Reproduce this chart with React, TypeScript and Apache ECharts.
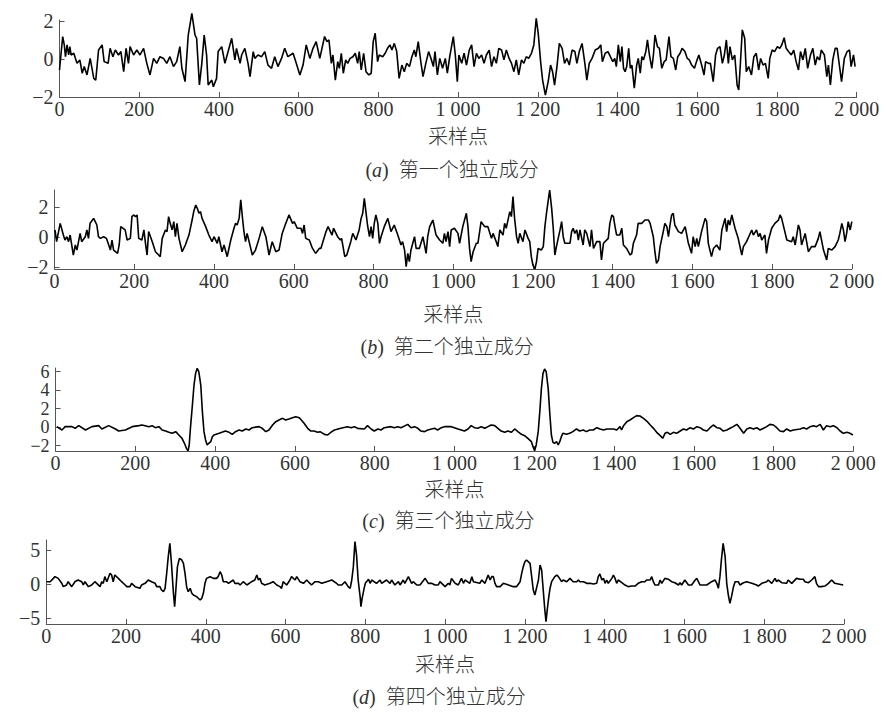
import React, { useEffect, useRef } from "react";
import * as echarts from "echarts";

// ---------- data: [sample index, value] ----------
const compA: [number, number][] = [
  [0,-0.58],[8,1.18],[12,0.74],[15,0.12],[19,0.74],[23,0.21],[26,0.65],[29,0.21],[36,0.30],[40,0.03],[44,-0.23],[51,-0.05],[57,-0.75],[62,-0.40],[69,-0.84],[77,0.03],[86,-1.02],[91,-1.11],[98,0.47],[107,0.74],[112,-0.14],[122,-0.23],[127,0.56],[134,0.12],[140,0.47],[148,0.21],[154,0.39],[161,-0.67],[167,0.56],[173,-0.23],[177,0.65],[186,0.21],[194,0.47],[202,0.21],[211,0.56],[219,-0.23],[227,-0.84],[236,0.03],[244,-0.23],[252,0.12],[261,0.03],[269,-0.23],[277,0.12],[286,-0.40],[294,-0.14],[302,0.65],[307,-0.49],[315,-1.19],[323,1.26],[332,2.40],[340,1.26],[344,1.09],[351,-1.37],[357,-0.23],[363,1.26],[369,0.21],[373,-1.37],[382,-1.11],[386,-1.46],[394,-1.02],[398,0.39],[407,0.65],[415,-0.23],[423,0.39],[432,1.09],[440,-0.05],[444,0.56],[453,-0.23],[457,0.21],[465,0.56],[473,-0.23],[478,-0.93],[486,0.39],[490,0.03],[498,0.21],[507,0.12],[515,0.39],[523,-0.32],[532,-0.49],[540,0.12],[548,-0.40],[557,0.03],[565,0.56],[573,0.12],[586,0.30],[594,-0.23],[603,-0.84],[611,-0.32],[619,0.74],[628,0.03],[636,0.56],[644,0.91],[653,0.03],[665,1.18],[671,0.91],[676,1.00],[682,-0.23],[686,0.21],[692,-1.11],[698,-0.14],[702,-0.49],[707,0.30],[712,-0.75],[718,-0.05],[723,-0.23],[729,0.03],[736,0.12],[742,0.30],[748,-0.23],[752,0.39],[757,-0.58],[763,0.30],[769,-0.67],[776,-0.84],[782,-0.75],[787,0.91],[792,1.35],[798,-0.14],[802,0.21],[811,0.12],[817,0.30],[823,0.56],[829,0.74],[834,0.47],[840,0.82],[846,0.39],[852,-1.02],[859,-0.32],[865,-0.67],[871,-0.23],[878,-0.40],[884,0.12],[890,0.47],[894,0.12],[900,0.91],[907,-0.23],[912,-0.93],[919,-0.23],[926,0.39],[932,0.03],[938,-0.40],[942,0.39],[948,-0.84],[954,0.03],[961,-0.49],[968,0.03],[973,-0.75],[979,0.12],[988,1.18],[993,0.21],[998,-1.19],[1002,0.21],[1009,-0.23],[1015,0.30],[1021,-0.32],[1028,0.47],[1034,0.74],[1040,-0.40],[1046,0.30],[1052,0.03],[1059,0.21],[1065,-0.23],[1071,0.21],[1078,0.47],[1084,-0.40],[1090,0.12],[1096,-0.23],[1102,0.56],[1109,0.47],[1115,-0.05],[1121,0.47],[1128,0.03],[1134,-0.23],[1140,-0.67],[1146,-0.05],[1152,-0.84],[1159,-0.05],[1165,-0.23],[1171,0.12],[1177,0.03],[1184,0.30],[1190,0.74],[1196,2.14],[1201,1.35],[1207,-0.14],[1212,-1.11],[1219,-1.90],[1226,-1.19],[1232,-0.32],[1237,-0.67],[1242,-1.37],[1248,-0.40],[1254,0.82],[1261,0.56],[1267,-0.23],[1273,0.03],[1279,-0.32],[1286,0.47],[1293,0.39],[1298,-0.23],[1304,0.39],[1311,0.82],[1318,-0.23],[1323,-1.11],[1329,-0.23],[1336,0.03],[1344,0.47],[1352,0.56],
  [1358,0.74],[1362,-0.14],[1369,0.30],[1376,0.39],[1382,0.12],[1388,-0.14],[1393,0.03],[1397,-0.40],[1402,0.74],[1407,-0.14],[1411,0.65],[1415,-0.49],[1419,-0.67],[1423,-0.40],[1428,0.56],[1432,-0.49],[1436,-0.32],[1442,-1.54],[1448,-0.32],[1452,0.03],[1457,-0.75],[1461,0.12],[1465,-0.05],[1471,0.39],[1475,1.00],[1480,0.21],[1486,-0.49],[1490,0.21],[1494,1.26],[1500,0.65],[1505,0.56],[1511,-0.49],[1517,-0.14],[1522,-0.05],[1529,1.18],[1534,0.12],[1540,0.03],[1546,-0.58],[1551,0.12],[1557,0.30],[1562,0.56],[1569,0.39],[1575,0.03],[1580,-0.05],[1586,-0.32],[1593,-0.49],[1598,-0.14],[1604,0.21],[1611,-0.32],[1617,-0.84],[1621,-0.14],[1628,-0.23],[1633,-0.23],[1640,-1.19],[1646,0.21],[1651,0.56],[1657,0.65],[1663,-0.23],[1668,0.21],[1673,1.00],[1678,-0.23],[1682,0.65],[1688,-0.05],[1694,0.21],[1700,-1.37],[1704,-1.63],[1708,-0.32],[1713,1.53],[1719,1.09],[1723,-0.67],[1729,-0.40],[1736,-0.84],[1742,0.12],[1748,0.30],[1754,-0.58],[1759,0.03],[1765,-0.32],[1771,-0.23],[1778,-1.02],[1782,0.03],[1788,0.47],[1794,0.39],[1801,0.65],[1807,0.56],[1812,0.74],[1818,1.12],[1823,0.56],[1829,0.39],[1836,0.21],[1842,0.47],[1848,-0.14],[1854,-0.58],[1859,0.39],[1865,-0.05],[1871,0.56],[1877,-0.49],[1884,0.21],[1890,0.56],[1896,-0.32],[1901,0.12],[1907,-0.05],[1911,0.47],[1919,0.21],[1925,-0.93],[1929,-0.32],[1934,-1.37],[1940,-0.05],[1946,0.56],[1951,0.56],[1957,-0.40],[1962,-1.19],[1969,0.03],[1976,0.39],[1982,0.47],[1986,-0.40],[1992,0.21],[1996,-0.40]
];

const compB: [number, number][] = [
  [1,0.47],[5,-0.31],[14,0.91],[22,0.13],[26,-0.20],[31,0.02],[35,-0.31],[39,0.13],[47,-1.20],[52,-0.53],[56,-0.87],[64,0.24],[68,-0.31],[77,0.02],[81,0.47],[85,-0.09],[89,0.91],[98,1.24],[106,0.80],[110,0.02],[115,-0.09],[123,0.02],[130,-0.09],[140,-0.87],[144,-0.20],[148,-0.87],[158,-1.09],[162,-0.53],[166,0.69],[177,0.47],[182,-0.20],[190,-0.09],[194,1.36],[198,1.47],[203,1.36],[207,1.47],[211,-0.09],[219,-0.20],[224,0.47],[228,-0.42],[232,-1.20],[236,0.36],[245,-0.31],[253,-0.98],[261,-1.20],[265,-1.31],[270,-0.09],[278,0.47],[282,0.36],[286,1.36],[290,0.91],[295,0.47],[299,1.02],[303,0.02],[307,0.91],[312,-0.09],[320,-0.98],[328,-0.53],[337,0.13],[345,1.13],[349,1.69],[354,2.13],[358,1.91],[362,1.58],[366,1.69],[370,1.24],[379,0.69],[387,0.13],[395,-0.31],[400,0.02],[408,-0.42],[412,0.02],[420,-0.98],[425,-0.53],[433,-1.31],[442,-0.20],[450,0.58],[454,0.91],[458,0.80],[463,1.24],[467,2.47],[471,1.36],[475,0.36],[479,-0.31],[483,0.24],[488,-0.31],[496,-1.20],[504,-0.87],[513,-0.09],[521,0.69],[530,0.02],[538,-1.20],[546,-0.31],[555,-0.98],[563,-0.87],[571,0.24],[580,0.91],[588,1.47],[597,0.91],[601,1.02],[609,0.58],[618,0.58],[622,0.24],[626,0.80],[630,-0.09],[639,-0.20],[647,-0.76],[655,-1.09],[664,-0.76],
  [668,-0.76],[681,0.36],[686,0.69],[696,0.13],[700,0.58],[710,0.02],[717,-0.20],[720,-0.09],[728,-1.31],[733,-1.20],[743,-0.31],[748,0.24],[756,-0.20],[764,0.47],[769,1.24],[773,1.58],[777,2.58],[781,1.69],[785,0.80],[790,0.02],[794,0.69],[798,-0.09],[802,0.91],[806,1.47],[811,0.91],[815,-0.42],[819,0.02],[827,0.69],[836,1.24],[844,0.36],[852,0.80],[861,0.13],[869,-0.53],[873,-0.31],[878,-0.87],[882,-1.98],[886,-1.09],[890,-1.64],[894,-0.87],[903,0.02],[907,-0.76],[915,-0.76],[924,0.02],[932,-1.09],[936,0.02],[941,0.69],[949,1.13],[957,0.13],[966,-0.20],[974,-0.42],[978,0.24],[982,-0.31],[987,0.36],[991,-0.64],[995,0.47],[1003,0.58],[1012,0.24],[1016,-0.42],[1024,0.69],[1033,1.58],[1037,0.69],[1041,-0.76],[1045,-1.64],[1050,-0.98],[1058,-0.42],[1062,-0.42],[1070,1.02],[1079,0.69],[1087,0.69],[1096,-0.09],[1100,0.24],[1108,-0.31],[1112,-0.64],[1117,0.47],[1125,0.13],[1129,0.91],[1133,0.58],[1142,1.69],[1146,1.36],[1150,2.69],[1154,1.24],[1159,0.02],[1163,-0.42],[1167,0.24],[1175,-0.31],[1180,0.47],[1188,-0.09],[1192,-0.31],[1196,-1.31],[1200,-1.87],[1205,-2.13],[1209,-1.64],[1213,-0.76],[1221,-0.87],[1226,-0.64],[1230,0.69],[1234,1.58],[1238,2.36],[1242,3.13],[1247,1.91],[1251,0.58],[1255,-1.20],[1259,-0.64],[1268,0.47],[1272,1.02],[1276,0.02],[1280,-0.42],[1293,-0.42],[1297,0.36],[1301,0.58],[1305,0.24],[1310,0.47],[1314,-0.20],[1318,0.47],[1326,-0.53],[1330,0.47],[1335,0.24],[1343,-0.64],
  [1347,0.47],[1352,-0.76],[1360,-0.31],[1368,-0.31],[1372,-1.53],[1377,-0.42],[1389,-0.09],[1393,0.91],[1398,1.47],[1402,1.36],[1406,0.69],[1410,0.13],[1418,0.13],[1423,0.58],[1427,-0.53],[1435,-0.76],[1444,-1.20],[1448,-1.09],[1452,-0.42],[1460,0.13],[1464,0.91],[1473,0.91],[1481,1.13],[1490,1.13],[1494,0.91],[1498,0.47],[1502,0.02],[1506,-0.98],[1510,-1.76],[1515,-1.53],[1519,-0.64],[1527,0.36],[1531,0.91],[1536,0.69],[1540,0.02],[1544,0.80],[1548,1.47],[1552,1.58],[1556,0.80],[1565,0.36],[1573,0.24],[1582,0.69],[1590,-0.42],[1598,-1.09],[1602,0.02],[1607,-0.64],[1611,-0.09],[1615,-0.64],[1623,0.36],[1632,1.24],[1636,1.02],[1640,-0.42],[1648,-1.31],[1653,-0.76],[1661,-0.53],[1669,-0.87],[1674,0.47],[1682,1.24],[1686,0.36],[1690,1.13],[1694,0.80],[1699,1.47],[1707,0.58],[1715,-0.09],[1724,-1.20],[1728,-0.64],[1736,-0.31],[1749,0.47],[1753,0.13],[1761,0.47],[1766,0.02],[1770,0.24],[1774,-0.20],[1782,0.13],[1786,-1.09],[1791,-0.20],[1799,0.58],[1807,0.91],[1816,1.13],[1820,1.47],[1824,1.24],[1832,0.36],[1837,-0.20],[1849,-0.31],[1853,0.02],[1858,-0.53],[1866,0.80],[1870,0.47],[1874,-0.53],[1883,0.24],[1891,-0.98],[1899,-0.64],[1908,-0.64],[1916,-0.09],[1920,0.36],[1929,-0.87],[1937,-1.53],[1941,-0.76],[1950,-0.87],[1958,-0.64],[1966,-0.20],[1970,0.24],[1975,0.91],[1979,0.47],[1983,-0.31],[1987,0.24],[1991,1.02],[1996,0.47],[2000,1.02]
];

const compC: [number, number][] = [
  [3,0.06],[16,-0.30],[24,0.06],[41,0.06],[49,-0.12],[58,0.17],[75,-0.30],[91,0.06],[108,0.17],[116,-0.19],[133,0.17],[150,-0.19],[158,-0.41],[175,-0.30],[192,0.06],[209,0.17],[217,0.24],[234,0.06],[242,0.17],[250,-0.05],[259,0.06],[267,-0.30],[276,-0.41],[284,-0.55],[292,-0.66],[301,-0.48],[309,-0.84],[317,-1.20],[323,-1.74],[328,-2.28],[332,-2.55],[335,-1.92],[338,-0.12],[343,2.40],[347,4.56],[351,5.82],[355,6.37],[359,6.00],[364,4.56],[368,1.68],[372,-0.48],[376,-1.38],[380,-1.92],[384,-1.74],[389,-1.56],[393,-1.02],[397,-0.84],[410,-0.66],[426,-0.41],[435,-0.55],[443,-0.77],[451,-0.48],[460,-0.30],[468,-0.41],[477,-0.19],[485,-0.30],[493,-0.05],[510,0.06],[518,-0.12],[527,-0.48],[535,-0.30],[544,0.24],[552,0.60],[560,0.78],[569,0.96],[577,0.78],[585,0.89],[594,1.03],[602,1.14],[611,1.03],[616,0.78],[623,0.42],[632,-0.12],[640,-0.41],[648,-0.41],[657,-0.55],[663,-0.48],
  [674,-0.77],[682,-0.84],[690,-0.55],[699,-0.30],[715,-0.12],[732,0.06],[741,-0.05],[749,0.06],[757,-0.12],[774,-0.19],[782,0.17],[791,-0.19],[799,-0.41],[808,-0.19],[816,-0.30],[824,-0.05],[841,0.06],[849,-0.05],[858,0.06],[866,-0.05],[883,0.31],[891,-0.05],[900,0.06],[908,-0.12],[916,-0.41],[925,-0.48],[933,-0.30],[950,-0.12],[958,-0.30],[967,-0.05],[975,0.06],[992,0.06],[1009,-0.19],[1025,-0.41],[1034,-0.19],[1042,0.17],[1050,-0.05],[1059,-0.12],[1067,0.06],[1076,-0.12],[1084,0.06],[1092,0.24],[1101,0.17],[1109,-0.12],[1117,-0.41],[1126,-0.55],[1134,-0.41],[1143,-0.55],[1151,-0.19],[1159,-0.48],[1168,-0.77],[1176,-0.91],[1184,-1.20],[1193,-1.56],[1197,-2.10],[1201,-2.55],[1205,-1.92],[1210,-0.48],[1214,1.68],[1218,4.20],[1222,5.82],[1226,6.29],[1230,6.00],[1235,4.20],[1239,1.50],[1243,-0.84],[1247,-1.63],[1251,-1.74],[1256,-1.56],[1260,-1.92],[1264,-1.56],[1268,-1.02],[1272,-0.66],[1281,-0.77],[1289,-0.66],[1297,-0.48],[1306,-0.19],[1314,-0.41],[1323,-0.30],[1331,-0.48],[1339,-0.30],
  [1348,-0.30],[1357,-0.05],[1365,-0.19],[1374,-0.30],[1382,-0.19],[1399,-0.19],[1407,-0.30],[1415,0.06],[1419,-0.30],[1424,0.17],[1432,0.60],[1440,0.78],[1449,1.03],[1457,1.25],[1465,1.21],[1474,0.96],[1482,0.67],[1491,0.24],[1499,-0.12],[1507,-0.55],[1516,-0.91],[1522,-1.20],[1528,-0.66],[1534,-0.55],[1541,-0.77],[1549,-0.55],[1557,-0.66],[1566,-0.41],[1574,-0.19],[1582,-0.30],[1591,-0.05],[1599,-0.19],[1608,0.06],[1616,-0.05],[1624,-0.30],[1633,-0.41],[1641,-0.05],[1649,0.24],[1658,-0.05],[1666,-0.12],[1674,-0.41],[1683,-0.30],[1691,-0.12],[1699,0.06],[1708,0.31],[1716,-0.12],[1725,-0.66],[1733,-0.19],[1741,-0.05],[1750,-0.19],[1758,-0.05],[1766,-0.30],[1775,-0.12],[1783,0.06],[1791,0.31],[1800,0.24],[1808,-0.05],[1816,-0.41],[1825,-0.48],[1833,-0.19],[1842,-0.41],[1850,-0.30],[1867,-0.19],[1875,-0.05],[1883,-0.19],[1892,0.06],[1900,0.17],[1908,0.06],[1917,0.31],[1925,-0.30],[1933,0.17],[1942,0.06],[1950,0.17],[1959,-0.05],[1967,-0.41],[1975,-0.66],[1984,-0.55],[1992,-0.66],[1999,-0.84]
];

const compD: [number, number][] = [
  [1,0.34],[10,0.34],[18,0.83],[22,1.08],[30,0.83],[39,0.10],[43,-0.39],[51,-0.15],[55,0.34],[64,-0.39],[72,0.34],[80,0.59],[89,0.34],[93,-0.15],[97,0.34],[106,-0.39],[114,-0.15],[122,0.34],[135,-0.39],[139,0.34],[143,0.10],[147,1.08],[152,0.34],[160,1.57],[164,1.32],[168,0.34],[172,1.32],[181,0.83],[189,0.34],[198,-0.15],[202,-0.39],[210,-0.39],[214,0.10],[223,-0.39],[235,-0.64],[239,-0.15],[248,0.10],[256,0.59],[264,0.34],[273,0.10],[277,-0.39],[285,-0.39],[289,-0.88],[294,-1.13],[298,-0.64],[302,1.57],[306,4.02],[310,5.98],[314,3.04],[319,-1.37],[322,-3.33],[325,-0.88],[329,2.55],[334,3.77],[340,3.53],[344,3.04],[348,1.57],[352,-0.39],[356,-1.13],[361,-0.64],[365,-1.37],[369,-1.62],[377,-1.86],[386,-2.35],[390,-2.11],[394,-1.37],[398,0.10],[402,0.83],[411,1.08],[419,0.83],[427,0.83],[431,1.08],[436,1.81],[440,1.32],[444,0.34],[452,0.34],[457,0.10],[469,0.59],[473,0.10],[482,0.10],[486,-0.15],[494,0.34],[503,-0.15],[515,0.34],[523,0.59],[528,1.32],[532,0.59],[536,0.83],[540,0.10],[548,-0.15],[561,0.10],[569,0.34],[578,-0.15],[586,-0.39],[590,-0.64],[594,0.34],[603,-0.15],[611,0.59],[615,1.08],[624,0.59],[628,1.08],[636,0.34],[645,0.10],[653,0.59],[657,0.34],
  [661,0.10],[665,-0.15],[674,0.34],[682,0.34],[691,0.10],[703,0.34],[716,0.59],[728,0.10],[732,-0.15],[741,-0.15],[749,0.34],[757,-0.39],[762,-0.64],[766,0.59],[770,2.55],[774,6.23],[778,4.26],[782,0.59],[787,-1.86],[789,-3.33],[792,-2.11],[797,-0.64],[800,0.10],[808,0.69],[812,0.10],[816,0.59],[828,0.10],[837,0.59],[841,0.10],[853,0.59],[862,0.10],[866,0.59],[874,-0.15],[883,0.34],[887,-0.15],[895,0.59],[899,0.10],[908,1.08],[916,0.10],[920,0.34],[929,-0.15],[937,-0.15],[950,0.83],[958,0.10],[966,0.10],[975,-0.15],[983,-0.15],[987,0.34],[1000,-0.39],[1008,0.10],[1012,-0.15],[1016,0.83],[1025,0.10],[1033,-0.15],[1041,0.83],[1046,0.10],[1050,0.59],[1062,0.10],[1067,1.08],[1071,0.34],[1087,0.10],[1092,0.59],[1100,0.10],[1108,1.32],[1113,0.59],[1117,1.08],[1121,1.08],[1125,0.10],[1129,-0.39],[1138,-0.39],[1146,0.10],[1159,-0.15],[1171,-0.39],[1179,-0.39],[1188,0.34],[1192,1.57],[1196,2.55],[1200,3.28],[1204,3.53],[1213,3.04],[1217,1.08],[1221,-0.88],[1225,-1.62],[1229,-0.64],[1234,0.59],[1238,2.79],[1242,2.06],[1246,-0.88],[1250,-3.82],[1253,-5.54],[1256,-3.82],[1260,-1.86],[1263,-0.64],[1267,0.34],[1275,1.08],[1280,1.32],[1284,1.08],[1292,0.34],[1296,0.59],[1305,0.34],[1313,0.83],[1321,0.34],[1330,0.34],[1334,0.59],
  [1338,0.34],[1347,0.34],[1355,0.10],[1363,0.10],[1372,0.00],[1380,0.10],[1384,1.08],[1388,1.47],[1393,0.59],[1397,0.83],[1401,0.10],[1405,0.59],[1409,0.10],[1418,0.83],[1422,1.32],[1426,0.83],[1430,0.10],[1434,0.59],[1443,0.19],[1451,-0.15],[1459,-0.39],[1468,-0.30],[1476,-0.30],[1484,0.10],[1493,0.34],[1501,0.34],[1505,0.59],[1514,0.59],[1518,1.08],[1522,0.34],[1526,-0.15],[1535,-0.15],[1539,0.59],[1543,0.10],[1551,0.83],[1560,0.69],[1568,0.34],[1576,0.19],[1585,-0.15],[1589,0.19],[1593,-0.15],[1601,0.59],[1610,-0.15],[1618,-0.15],[1627,0.59],[1631,0.83],[1639,-0.15],[1647,-0.15],[1656,-0.15],[1668,0.34],[1677,0.59],[1681,0.10],[1685,-0.64],[1689,1.08],[1693,3.77],[1697,5.98],[1702,4.02],[1706,0.10],[1710,-1.62],[1714,-2.84],[1718,-1.86],[1723,-0.39],[1727,0.34],[1735,0.34],[1739,-0.15],[1748,0.19],[1756,0.34],[1769,0.10],[1781,-0.15],[1785,-0.30],[1794,0.10],[1806,0.34],[1810,0.59],[1819,0.10],[1827,0.83],[1831,0.34],[1835,0.59],[1844,0.19],[1856,0.10],[1860,0.59],[1869,0.10],[1881,0.83],[1890,0.69],[1898,0.69],[1902,0.34],[1911,0.19],[1919,0.59],[1927,1.08],[1931,0.10],[1936,-0.39],[1944,-0.39],[1952,-0.30],[1961,0.10],[1969,0.59],[1977,0.10],[1986,0.00],[1998,-0.15]
];

const yTicksA = [-2, 0, 2];
const yTicksB = [-2, 0, 2];
const yTicksC = [-2, 0, 2, 4, 6];
const yTicksD = [-5, 0, 5];
const xAxisTitle = "采样点";
const captionTags = ["a", "b", "c", "d"];
const captionTexts = ["第一个独立成分", "第二个独立成分", "第三个独立成分", "第四个独立成分"];

// ---------- layout ----------
const W = 887;
const H = 724;
const FONT = '"Liberation Serif", "Times New Roman", "Noto Sans CJK SC", serif';
const TEXT_COLOR = "#333";
const AXIS_COLOR = "#555";

const panels = [
  { data: compA, ticks: yTicksA, min: -2, max: 2.05, left: 59.5, right: 30.3, top: 20, height: 77, nameY: 137, capY: 170, yFont: 20 },
  { data: compB, ticks: yTicksB, min: -2.13, max: 3.13, left: 54.6, right: 35.2, top: 190, height: 79, nameY: 315, capY: 347, yFont: 20 },
  { data: compC, ticks: yTicksC, min: -2.57, max: 6.4, left: 55.6, right: 33.7, top: 368, height: 83, nameY: 490, capY: 521, yFont: 18 },
  { data: compD, ticks: yTicksD, min: -5.88, max: 6.47, left: 46.2, right: 43, top: 540, height: 84, nameY: 665, capY: 697, yFont: 20 },
];

const fmtX = (v: number) =>
  v >= 1000 ? `${Math.floor(v / 1000)} ${String(v % 1000).padStart(3, "0")}` : String(v);
const fmtY = (v: number) => String(v).replace("-", "\u2212");

export default function App() {
  const ref = useRef<HTMLDivElement>(null);
  useEffect(() => {
    if (!ref.current) return;
    const chart = echarts.init(ref.current, undefined, { renderer: "svg" });
    const grid = panels.map((p) => ({ left: p.left, right: p.right, top: p.top, height: p.height, containLabel: false }));
    const xAxis = panels.map((_, i) => ({
      type: "value",
      gridIndex: i,
      min: 0,
      max: 2000,
      interval: 200,
      axisLine: { show: true, onZero: false, lineStyle: { color: AXIS_COLOR, width: 1 } },
      axisTick: { show: true, inside: true, length: 5, lineStyle: { color: AXIS_COLOR } },
      axisLabel: { color: TEXT_COLOR, fontFamily: FONT, fontSize: 20, lineHeight: 16, margin: 4, formatter: fmtX, hideOverlap: false },
      splitLine: { show: false },
    }));
    // two y axes per grid: the first carries the line, ticks and every other label,
    // the second only the remaining labels (so that closely packed labels all stay visible)
    const yAxis: any[] = [];
    panels.forEach((p, i) => {
      const labelBase = {
        color: TEXT_COLOR,
        fontFamily: FONT,
        fontSize: p.yFont,
        lineHeight: 14,
        margin: 6,
        formatter: fmtY,
        hideOverlap: false,
        showMinLabel: true,
        showMaxLabel: true,
      };
      const even = p.ticks.filter((_, k) => k % 2 === 0);
      const odd = p.ticks.filter((_, k) => k % 2 === 1);
      yAxis.push({
        type: "value",
        gridIndex: i,
        min: p.min,
        max: p.max,
        axisLine: { show: true, onZero: false, lineStyle: { color: AXIS_COLOR, width: 1 } },
        axisTick: { show: true, inside: true, length: 5, customValues: p.ticks, lineStyle: { color: AXIS_COLOR } },
        axisLabel: { ...labelBase, customValues: even },
        splitLine: { show: false },
      });
      yAxis.push({
        type: "value",
        gridIndex: i,
        position: "left",
        min: p.min,
        max: p.max,
        axisLine: { show: false, onZero: false },
        axisTick: { show: false },
        axisLabel: { ...labelBase, show: odd.length > 0, customValues: odd.length ? odd : [p.min] },
        splitLine: { show: false },
      });
    });
    const series = panels.map((p, i) => ({
      type: "line",
      xAxisIndex: i,
      yAxisIndex: 2 * i,
      data: p.data,
      showSymbol: false,
      clip: false,
      lineStyle: { color: "#000", width: 1.6 },
    }));
    const graphic: any[] = [];
    panels.forEach((p, i) => {
      const cx = p.left + (W - p.left - p.right) / 2;
      graphic.push({
        type: "text",
        x: cx,
        y: p.nameY,
        style: { text: xAxisTitle, font: `300 20px ${FONT}`, fill: TEXT_COLOR, align: "center", verticalAlign: "middle" },
      });
      graphic.push({
        type: "text",
        x: cx - 6,
        y: p.capY,
        style: {
          text: `({i|${captionTags[i]}})  ${captionTexts[i]}`,
          font: `300 20px ${FONT}`,
          fill: TEXT_COLOR,
          align: "center",
          verticalAlign: "middle",
          rich: { i: { fontStyle: "italic", fontFamily: FONT, fontSize: 20, fill: TEXT_COLOR } },
        },
      });
    });
    chart.setOption({
      animation: false,
      backgroundColor: "#fff",
      grid,
      xAxis,
      yAxis,
      series,
      graphic,
    } as any);
    return () => chart.dispose();
  }, []);
  return <div ref={ref} style={{ position: "absolute", left: 0, top: 0, width: W, height: H }} />;
}
